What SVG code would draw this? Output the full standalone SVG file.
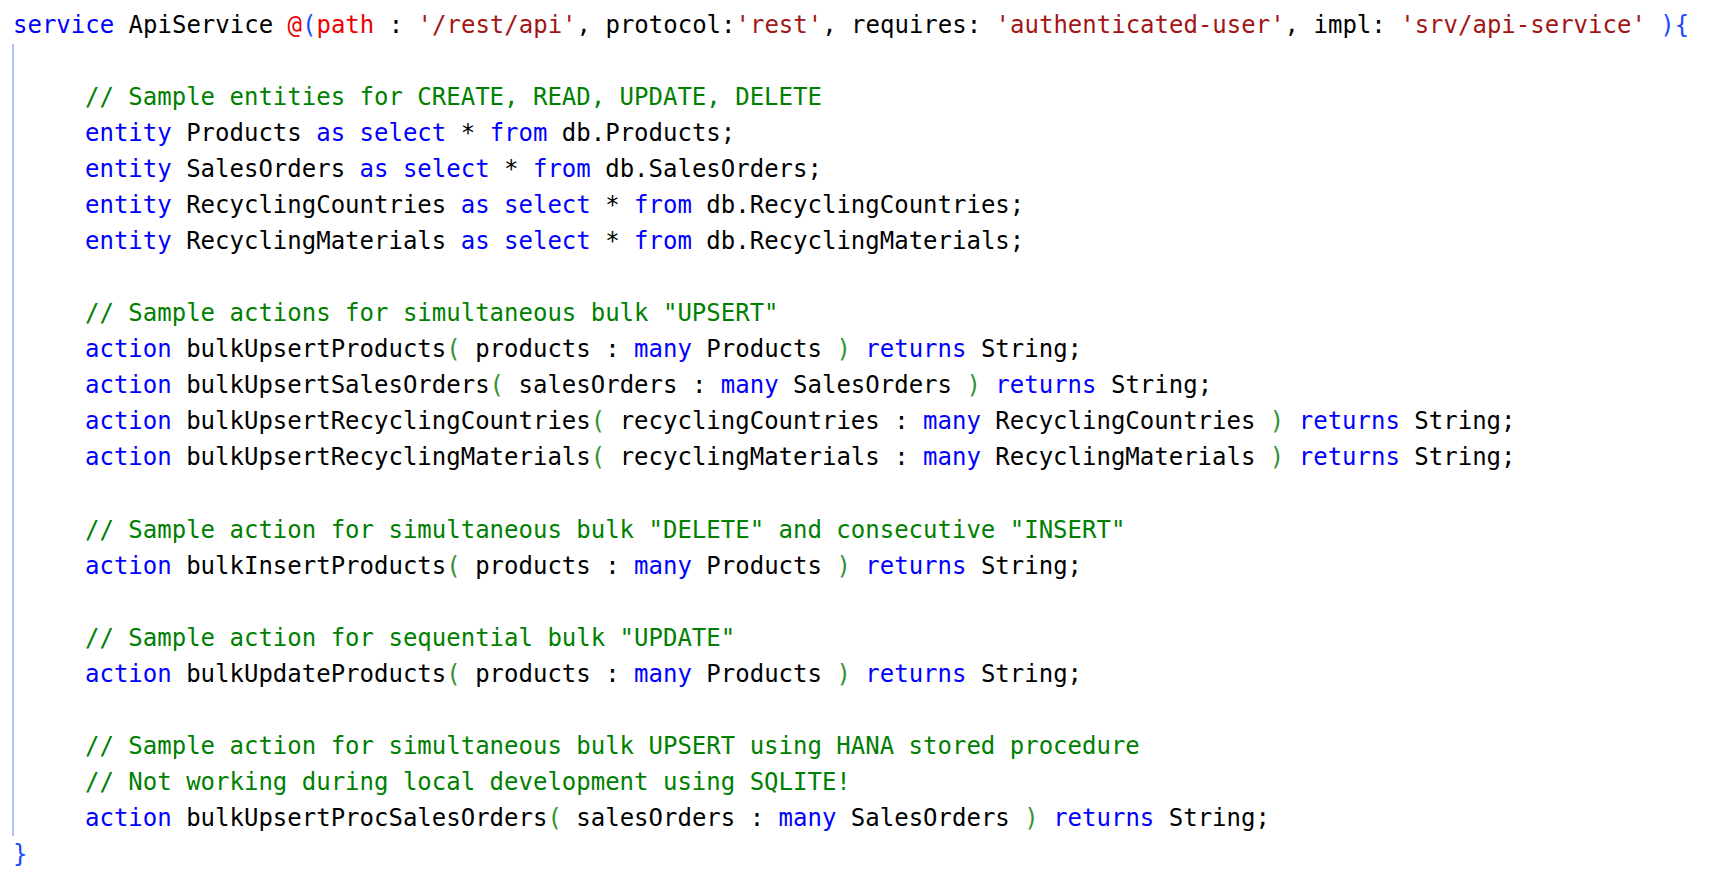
<svg xmlns="http://www.w3.org/2000/svg" width="1726" height="896" viewBox="0 0 1726 896" xml:space="preserve">
<style>
text{font-family:"DejaVu Sans Mono","Liberation Mono",monospace;font-size:24px;fill:#000;white-space:pre}
.k{fill:#0000ff}.s{fill:#a31515}.r{fill:#ee0000}.b{fill:#1a4aff}.c{fill:#008000}.p{fill:#319331}
</style>
<rect width="1726" height="896" fill="#fff"/>
<line x1="13" y1="44" x2="13" y2="836" stroke="#b4c0f8" stroke-width="2"/>
<g id="code">
<text x="13" y="33"><tspan class="k">service</tspan> ApiService <tspan class="r">@</tspan><tspan class="b">(</tspan><tspan class="r">path</tspan> : <tspan class="s">'/rest/api'</tspan>, protocol:<tspan class="s">'rest'</tspan>, requires: <tspan class="s">'authenticated-user'</tspan>, impl: <tspan class="s">'srv/api-service'</tspan> <tspan class="b">){</tspan></text>
<text x="85" y="105" class="c">// Sample entities for CREATE, READ, UPDATE, DELETE</text>
<text x="85" y="141"><tspan class="k">entity</tspan> Products <tspan class="k">as</tspan> <tspan class="k">select</tspan> * <tspan class="k">from</tspan> db.Products;</text>
<text x="85" y="177"><tspan class="k">entity</tspan> SalesOrders <tspan class="k">as</tspan> <tspan class="k">select</tspan> * <tspan class="k">from</tspan> db.SalesOrders;</text>
<text x="85" y="213"><tspan class="k">entity</tspan> RecyclingCountries <tspan class="k">as</tspan> <tspan class="k">select</tspan> * <tspan class="k">from</tspan> db.RecyclingCountries;</text>
<text x="85" y="249"><tspan class="k">entity</tspan> RecyclingMaterials <tspan class="k">as</tspan> <tspan class="k">select</tspan> * <tspan class="k">from</tspan> db.RecyclingMaterials;</text>
<text x="85" y="321" class="c">// Sample actions for simultaneous bulk "UPSERT"</text>
<text x="85" y="357"><tspan class="k">action</tspan> bulkUpsertProducts<tspan class="p">(</tspan> products : <tspan class="k">many</tspan> Products <tspan class="p">)</tspan> <tspan class="k">returns</tspan> String;</text>
<text x="85" y="393"><tspan class="k">action</tspan> bulkUpsertSalesOrders<tspan class="p">(</tspan> salesOrders : <tspan class="k">many</tspan> SalesOrders <tspan class="p">)</tspan> <tspan class="k">returns</tspan> String;</text>
<text x="85" y="429"><tspan class="k">action</tspan> bulkUpsertRecyclingCountries<tspan class="p">(</tspan> recyclingCountries : <tspan class="k">many</tspan> RecyclingCountries <tspan class="p">)</tspan> <tspan class="k">returns</tspan> String;</text>
<text x="85" y="465"><tspan class="k">action</tspan> bulkUpsertRecyclingMaterials<tspan class="p">(</tspan> recyclingMaterials : <tspan class="k">many</tspan> RecyclingMaterials <tspan class="p">)</tspan> <tspan class="k">returns</tspan> String;</text>
<text x="85" y="538" class="c">// Sample action for simultaneous bulk "DELETE" and consecutive "INSERT"</text>
<text x="85" y="574"><tspan class="k">action</tspan> bulkInsertProducts<tspan class="p">(</tspan> products : <tspan class="k">many</tspan> Products <tspan class="p">)</tspan> <tspan class="k">returns</tspan> String;</text>
<text x="85" y="646" class="c">// Sample action for sequential bulk "UPDATE"</text>
<text x="85" y="682"><tspan class="k">action</tspan> bulkUpdateProducts<tspan class="p">(</tspan> products : <tspan class="k">many</tspan> Products <tspan class="p">)</tspan> <tspan class="k">returns</tspan> String;</text>
<text x="85" y="754" class="c">// Sample action for simultaneous bulk UPSERT using HANA stored procedure</text>
<text x="85" y="790" class="c">// Not working during local development using SQLITE!</text>
<text x="85" y="826"><tspan class="k">action</tspan> bulkUpsertProcSalesOrders<tspan class="p">(</tspan> salesOrders : <tspan class="k">many</tspan> SalesOrders <tspan class="p">)</tspan> <tspan class="k">returns</tspan> String;</text>
<text x="13" y="862" class="b">}</text>
</g>
</svg>
